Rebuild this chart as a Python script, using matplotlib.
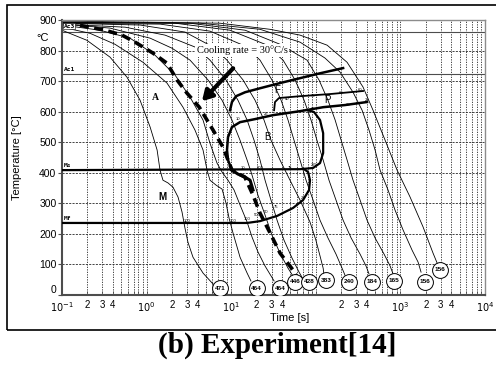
import numpy as np
import matplotlib.pyplot as plt
from matplotlib.patches import Rectangle
from matplotlib.ticker import FixedLocator, FixedFormatter

plt.rcParams['font.family'] = ['Liberation Sans', 'DejaVu Sans']

# ---- cooling curves: time [s], temperature [degC] ----
c1_t = [0.1, 0.197, 0.369, 0.587, 0.836, 1.10, 1.33, 1.44, 1.56, 1.79, 2.05, 2.35, 2.62, 2.84, 3.08, 3.53, 4.64, 6.10]
c1_T = [867, 834, 779, 713, 638, 550, 475, 409, 376, 367, 353, 321, 272, 219, 173, 124, 72, 36]
c2_t = [0.1, 0.214, 0.423, 0.906, 1.74, 2.69, 3.73, 4.64, 5.18, 5.61, 6.61, 7.78, 8.68, 9.42, 10.5, 12.7, 15.4, 17.1]
c2_T = [877, 857, 821, 762, 694, 615, 540, 475, 409, 376, 360, 347, 301, 252, 203, 124, 72, 46]
c3_t = [0.1, 0.281, 0.637, 1.26, 2.17, 3.26, 4.64, 5.61, 6.79, 7.78, 9.16, 10.8, 12.7, 15.4, 17.6, 20.7, 25.1, 32.1]
c3_T = [884, 867, 841, 785, 720, 648, 573, 497, 432, 403, 376, 344, 295, 239, 190, 141, 95, 46]
c4_t = [0.1, 0.369, 1.10, 2.0, 3.26, 5.32, 7.78, 10.2, 12.7, 15.4, 17.6, 20.7, 25.1, 30.3, 37.7, 46.9, 53.7]
c4_T = [887, 874, 841, 808, 769, 704, 638, 573, 507, 442, 393, 327, 262, 196, 137, 88, 62]
c5_t = [0.1, 0.556, 1.65, 3.73, 5.61, 8.68, 12.0, 15.4, 18.6, 21.9, 25.1, 29.5, 34.8, 42.0, 52.3, 63.3, 70.6]
c5_T = [887, 877, 851, 812, 769, 704, 638, 573, 507, 442, 376, 311, 245, 180, 121, 75, 52]
c6_t = [0.1, 0.836, 2.84, 6.10, 8.91, 13.8, 19.1, 24.4, 29.5, 37.7, 49.5, 65.0, 85.3, 100, 112, 122, 125]
c6_T = [890, 884, 861, 812, 769, 704, 638, 573, 507, 442, 376, 311, 239, 180, 128, 88, 65]
c7_t = [0.1, 1.44, 5.61, 14.6, 21.9, 30.3, 38.8, 46.9, 55.2, 65.0, 76.6, 92.7, 112, 139, 173, 199, 221]
c7_T = [890, 887, 864, 815, 769, 704, 638, 573, 507, 442, 376, 311, 245, 187, 134, 95, 65]
c8_t = [0.1, 2.17, 9.68, 25.1, 41.0, 56.8, 72.6, 87.7, 103, 122, 143, 173, 210, 261, 333, 392, 425]
c8_T = [893, 890, 867, 821, 769, 704, 638, 573, 507, 442, 376, 311, 245, 187, 134, 95, 69]
c9_t = [0.1, 3.26, 14.6, 37.7, 78.7, 109, 139, 169, 199, 234, 275, 333, 403, 501, 640, 754, 818]
c9_T = [893, 890, 867, 821, 769, 704, 638, 573, 507, 442, 376, 311, 245, 187, 134, 95, 69]
c10_t = [0.1, 4.28, 21.9, 65.0, 128, 193, 275, 352, 425, 501, 574, 713, 863, 1074, 1371, 1614, 1751]
c10_T = [893, 890, 870, 828, 776, 730, 664, 605, 540, 475, 409, 344, 278, 213, 147, 108, 75]
c11_t = [0.1, 7.37, 28.7, 65.0, 136, 234, 361, 474, 658, 912, 1298, 1849, 2428, 2710]
c11_T = [897, 890, 870, 851, 818, 762, 681, 605, 507, 409, 321, 223, 137, 105]

# 30 degC/s reference curve
dash_t = [0.163, 0.322, 0.512, 0.73, 1.19, 1.74, 2.29, 3.0, 4.19, 6.1, 8.0, 10.2, 14.5, 18.1, 21.9, 28.8, 37.8, 53.7, 60]
dash_T = [883, 867, 851, 828, 792, 759, 704, 661, 615, 540, 484, 409, 386, 327, 268, 203, 137, 82, 59]
wig_t = [10.2, 12.0, 14.6, 16.7, 18.1]
wig_T = [409, 396, 386, 376, 344]

# transformation lines
ms_t = [0.1, 65.0, 92.7, 112, 122, 122, 112, 95.3, 80.9]
ms_T = [409, 412, 416, 432, 465, 530, 573, 599, 605]
mf_t = [0.1, 15.4, 21.9, 34.8, 53.7, 70.6, 83.1, 85.3, 80.9, 72.6]
mf_T = [236, 236, 242, 259, 285, 311, 344, 376, 403, 412]
fs_t = [210, 112, 65.0, 37.7, 21.9, 14.6, 11.4, 10.2, 9.68]
fs_T = [743, 726, 710, 694, 677, 664, 651, 632, 605]
bs_t = [403, 221, 122, 65.0, 31.2, 19.1, 12.7, 10.2, 9.16, 8.91, 9.16, 9.95]
bs_T = [632, 622, 615, 602, 589, 576, 566, 550, 517, 475, 442, 416]
ps_t = [32.1, 32.9, 36.7, 65.0, 147, 361]
ps_T = [605, 632, 645, 651, 658, 668]
Ac3, Ac1 = 862, 723

# hardness circles
hv_labels = ['471', '464', '464', '446', '428', '383', '240', '184', '165', '156', '156']
hv_t = [7.4, 20, 37.7, 56.8, 83.8, 132, 249, 458, 847, 1950, 2940]
hv_T = [23, 23, 23, 43, 43, 49, 43, 43, 46, 43, 82]

fig = plt.figure(figsize=(4.96, 3.73), dpi=100)
ax = fig.add_axes([0.125, 0.209, 0.853, 0.737])
ax.set_xscale('log')
ax.set_xlim(0.1, 1e4)
ax.set_ylim(0, 900)

# grid
maj = [0.1, 1, 10, 100, 1000, 10000]
mnr = [m * 10.0**e for e in range(-1, 4) for m in range(2, 10)]
for x in maj[1:-1] + mnr:
    ax.axvline(x, color='0.15', lw=0.6, ls=(0, (1.5, 1.5)), zorder=0)
for y in range(100, 900, 100):
    ax.axhline(y, color='0.15', lw=0.6, ls=(0, (2.5, 1.5)), zorder=0)

ax.axhline(Ac3, color='0.3', lw=0.8, zorder=1)
ax.axhline(Ac1, color='0.3', lw=0.8, zorder=1)

curves = [(c1_t, c1_T), (c2_t, c2_T), (c3_t, c3_T), (c4_t, c4_T), (c5_t, c5_T), (c6_t, c6_T),
          (c7_t, c7_T), (c8_t, c8_T), (c9_t, c9_T), (c10_t, c10_T), (c11_t, c11_T)]
for ct, cT in curves:
    ax.plot(ct, cT, color='k', lw=0.6, zorder=2)

ax.plot(ms_t, ms_T, color='k', lw=1.6, zorder=3)
ax.plot(mf_t, mf_T, color='k', lw=1.6, zorder=3)
ax.plot(fs_t, fs_T, color='k', lw=1.8, zorder=3)
ax.plot(bs_t, bs_T, color='k', lw=1.8, zorder=3)
ax.plot(ps_t, ps_T, color='k', lw=1.3, zorder=3)

ax.plot(dash_t, dash_T, color='k', lw=2.6, ls=(0, (2.5, 1.5)), zorder=4)
ax.plot(wig_t, wig_T, color='k', lw=2.2, zorder=4)

ax.scatter(hv_t, hv_T, s=130, facecolor='white', edgecolor='k', lw=0.7, zorder=5)
for lab, t, T in zip(hv_labels, hv_t, hv_T):
    ax.text(t, T, lab, fontsize=4.6, fontweight='bold', ha='center', va='center', zorder=6)

# line labels
for lab, T in [('Ac3', 880), ('Ac1', 737), ('Ms', 424), ('Mf', 251)]:
    ax.text(0.104, T, lab, fontsize=4.5, fontweight='bold', family='DejaVu Sans Mono',
            ha='left', va='center', zorder=6,
            bbox=dict(boxstyle='square,pad=0.1', fc='white', ec='k', lw=0.4) if lab == 'Ac3' else None)

# region letters
ax.text(1.26, 648, 'A', fontsize=7, fontweight='bold', family='Liberation Serif', ha='center', va='center')
ax.text(34.8, 671, 'F', fontsize=7, ha='center', va='center')
ax.text(136, 638, 'P', fontsize=7, ha='center', va='center')
ax.text(26.5, 517, 'B', fontsize=7, ha='center', va='center')
ax.text(1.52, 321, 'M', fontsize=7, fontweight='bold', ha='center', va='center')

# small numbers on transformation lines
small = [('10', 12.0, 575), ('25', 26, 592), ('25', 92, 608), ('25', 240, 622), ('25', 400, 640),
         ('40', 46, 642), ('75', 92, 652), ('60', 200, 660), ('60', 330, 670),
         ('10', 13.8, 415), ('200', 22, 415), ('75', 49.5, 415), ('225', 95, 425),
         ('100', 3.0, 242), ('100', 10.5, 242), ('100', 15.5, 248), ('500', 20.5, 262),
         ('50', 25.5, 272), ('75', 34, 287), ('20', 70, 318)]
for lab, t, T in small:
    ax.text(t, T, lab, fontsize=3, ha='center', va='center', zorder=6)

# cooling rate annotation
ax.annotate('', xy=(4.28, 628), xytext=(11.1, 749),
            arrowprops=dict(arrowstyle='-|>,head_width=0.35,head_length=0.6', lw=3, color='k'), zorder=7)
ax.text(13.4, 802, 'Cooling rate = 30\u00b0C/s', fontsize=7.5, family='Liberation Serif',
        ha='center', va='center', zorder=7,
        bbox=dict(boxstyle='square,pad=0.15', fc='white', ec='none'))

# axes styling
for s in ['left', 'bottom']:
    ax.spines[s].set_color('0.3')
    ax.spines[s].set_linewidth(1.5)
for s in ['top', 'right']:
    ax.spines[s].set_color('0.55')
    ax.spines[s].set_linewidth(1.0)
ax.set_yticks(range(0, 1000, 100))
ax.tick_params(axis='y', labelsize=7.5, length=3, width=0.8, color='0.3', pad=1)
ax.xaxis.set_major_locator(FixedLocator(maj))
ax.xaxis.set_major_formatter(FixedFormatter(['$10^{-1}$', '$10^{0}$', '$10^{1}$', '', '$10^{3}$', '$10^{4}$']))
ax.xaxis.set_minor_locator(FixedLocator(mnr))
ax.xaxis.set_minor_formatter(FixedFormatter([str(m) if m in (2, 3, 4) else '' for e in range(-1, 4) for m in range(2, 10)]))
ax.tick_params(axis='x', which='both', labelsize=7, direction='in', length=3, width=0.6, color='0.3', pad=3.5)
ax.get_yticklabels()[0].set_verticalalignment('bottom')

ax.set_ylabel('Temperature [\u00b0C]', fontsize=8)
ax.yaxis.set_label_coords(-0.095, 0.5)
ax.set_xlabel('Time [s]', fontsize=8)
ax.xaxis.set_label_coords(0.539, -0.065)
ax.text(-0.045, 0.935, '\u00b0C', transform=ax.transAxes, fontsize=8, ha='center', va='center')

# outer frame and caption
fig.patches.append(Rectangle((0.014, 0.115), 1.0, 0.872, transform=fig.transFigure,
                             fill=False, ec='k', lw=1.2))
fig.text(0.558, 0.075, '(b) Experiment[14]', fontsize=21, fontweight='bold',
         family='Liberation Serif', ha='center', va='center')

fig.savefig('out.png', dpi=100)
